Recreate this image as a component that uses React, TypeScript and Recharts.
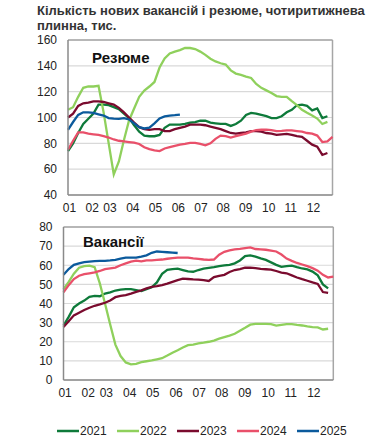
import { CartesianGrid, Line, LineChart, ReferenceLine, XAxis, YAxis } from 'recharts';

const years = ['2021', '2022', '2023', '2024', '2025'];
const colors = ['#0e7a3a', '#8fd05c', '#7a0b2e', '#e9506a', '#0b5a9c'];

const monthLabels = ['01', '02', '03', '04', '05', '06', '07', '08', '09', '10', '11', '12'];
// week positions where Excel puts the month labels
const monthTicks = [1.3, 5.75, 9.25, 13.75, 18.2, 22.7, 27.15, 31.5, 35.95, 40.45, 44.8, 49.25];

const resume2021 = [74, 80, 88, 95, 99, 103, 110, 110, 109.5, 108, 106.5, 103, 99.5, 94, 89, 86, 85.5, 85.5, 86.5, 92, 94.5, 94.5, 94.5, 95, 96, 96.5, 97.5, 97.5, 96, 95.5, 95, 95, 93.5, 95, 97.5, 102, 103.5, 103, 102, 101, 99.5, 99.5, 101, 104, 106, 109.5, 110, 109, 105.5, 107, 99.5, 101];
const resume2022 = [106, 108, 116, 123, 124, 124, 124.5, 104, 80, 56, 66, 82.6, 97.7, 107, 116, 120.8, 124, 127.5, 138.7, 145.7, 149.6, 151, 152.2, 153.8, 153.8, 153, 151, 148.5, 145.5, 143.4, 142, 141, 136.5, 134, 133, 131.7, 130.6, 126, 123, 121, 119, 116.6, 116, 116, 112.7, 109.6, 106, 103.6, 101.6, 99.2, 95, 96.6];
const resume2023 = [100, 103, 109, 111, 111.5, 112.5, 112.5, 112, 111, 110, 107.5, 104, 100, 96, 92.5, 91, 90.5, 91, 91, 89.5, 89.5, 91, 92, 93, 94.5, 94.5, 94.5, 94, 93, 92, 91, 89.5, 88, 87.5, 88, 88.5, 89.5, 89.5, 89, 88, 87.5, 86.5, 87, 87.3, 86.5, 85.5, 85, 82, 79, 77.5, 71, 72.5];
const resume2024 = [75, 82, 88.5, 88.5, 87.5, 87, 86.5, 85.5, 84.5, 83, 82, 81.5, 81, 80.5, 79.5, 77, 75.5, 74.5, 74, 76, 77, 78, 79, 79.5, 80.3, 80.3, 79.5, 78.5, 80, 83.5, 86, 85.5, 84.5, 85.5, 86.5, 87.5, 89, 90.3, 90.5, 90.6, 90.2, 89.5, 89.7, 90, 90, 89.5, 89, 88, 87.5, 86, 81, 81.5, 85];
const resume2025 = [90.5, 96.5, 102, 104, 104, 103.5, 102.5, 101.5, 99.5, 99.2, 99, 99.5, 98.5, 95.5, 92.5, 91.5, 92.2, 95.5, 99.3, 100.8, 101.5, 101.8, 102.3];

const vac2021 = [28.5, 33, 38, 40, 41.5, 43.5, 44, 43.8, 45.2, 45.8, 46.8, 47.3, 47.5, 47.5, 47, 46.5, 47.5, 48.5, 51, 55.5, 57.6, 58, 58.2, 57.5, 56.8, 56.6, 57.5, 58.2, 58.6, 59, 59.5, 59.9, 60.2, 61, 62.5, 64.8, 65.2, 64.5, 63.6, 62.8, 61.5, 60.2, 59.2, 59.5, 59.8, 59, 58.3, 57.8, 56.7, 54.7, 50, 47.9];
const vac2022 = [47.5, 51.3, 55.6, 58.7, 59.5, 59.8, 59, 50.5, 40, 29, 18.5, 12.5, 9.2, 8.2, 8.4, 9.3, 9.8, 10.2, 10.8, 11.4, 12.8, 14.3, 15.6, 17, 18.2, 18.5, 19.1, 19.5, 20, 20.6, 21.6, 22.4, 23.2, 24.2, 25.8, 27.3, 28.9, 29.3, 29.3, 29.3, 29.2, 28.4, 28.8, 29.2, 29.2, 28.8, 28.5, 28, 27.7, 27.5, 26.4, 26.8];
const vac2023 = [27.7, 30.7, 33.8, 35.2, 36.6, 37.8, 38.8, 39.5, 40.4, 41.6, 43.3, 44, 44.4, 45.2, 46.1, 46.9, 47.9, 48.7, 49.1, 49.6, 50.4, 51.3, 52.2, 53, 52.8, 52.6, 52.5, 52.2, 51.8, 53.8, 54.5, 55, 56.5, 57.5, 58, 58.7, 58.8, 58.5, 58.1, 57.9, 57.7, 57, 56.2, 55.8, 54.7, 53.6, 52.7, 51.9, 51, 50.2, 46, 45.6];
const vac2024 = [45.8, 49.6, 52.8, 54.5, 55.3, 55.8, 56.3, 57, 58, 58.4, 58.8, 60, 61, 61.9, 62.4, 62, 62.6, 62.6, 62.8, 63, 63.4, 63.7, 64, 64, 64, 63.6, 63.3, 63, 62.8, 63, 65.5, 67, 67.8, 68.3, 68.6, 69, 69.3, 68.5, 68.3, 68.1, 67.7, 67.2, 65.6, 63.5, 62.3, 61.2, 60.4, 59.5, 58.5, 57.2, 55, 53.6, 54];
const vac2025 = [55, 58, 60.2, 61, 61.6, 61.9, 62.2, 62.3, 62.3, 62.5, 62.8, 63.5, 64, 64, 64, 64.5, 65.2, 66.5, 67.2, 67, 66.8, 66.6, 66.4];

const resumeTicks = [40, 60, 80, 100, 120, 140, 160];
const vacTicks = [0, 10, 20, 30, 40, 50, 60, 70, 80];

function buildRows(series: number[][]) {
  const n = Math.max(...series.map((s) => s.length));
  const rows: any[] = [];
  for (let i = 0; i < n; i++) {
    const row: any = { week: i + 1 };
    series.forEach((s, k) => {
      row['y' + years[k]] = s[i];
    });
    rows.push(row);
  }
  return rows;
}

const resumeData = buildRows([resume2021, resume2022, resume2023, resume2024, resume2025]);
const vacData = buildRows([vac2021, vac2022, vac2023, vac2024, vac2025]);

const FONT = '"Liberation Sans", Arial, sans-serif';

function Panel({ data, ticks, label, yWidth, rightMargin, topMargin, labelX, labelY }: any) {
  const top = ticks[ticks.length - 1];
  return (
    <LineChart
      width={340}
      height={190}
      data={data}
      margin={{ top: topMargin, right: rightMargin, left: 0, bottom: 0 }}
    >
      <CartesianGrid vertical={false} stroke="#d9d9d9" strokeWidth={1.2} />
      <XAxis
        dataKey="week"
        type="number"
        domain={[1, 53]}
        ticks={monthTicks}
        interval={0}
        tickFormatter={(v: number, i: number) => monthLabels[i]}
        tickLine={false}
        axisLine={{ stroke: '#8a8a8a', strokeWidth: 1.5 }}
        tick={{ fill: '#222', fontSize: 12 }}
        height={25}
      />
      <YAxis
        type="number"
        domain={[ticks[0], top]}
        ticks={ticks}
        interval={0}
        width={yWidth}
        tickLine={false}
        tickMargin={5}
        axisLine={{ stroke: '#8a8a8a', strokeWidth: 1.5 }}
        tick={{ fill: '#222', fontSize: 12 }}
      />
      <ReferenceLine y={top} stroke="#a6a6a6" strokeWidth={1.5} />
      <ReferenceLine x={53} stroke="#a6a6a6" strokeWidth={1.5} />
      {years.map((y, i) => (
        <Line
          key={y}
          dataKey={'y' + y}
          stroke={colors[i]}
          strokeWidth={2.3}
          dot={false}
          type="linear"
          isAnimationActive={false}
        />
      ))}
      <text x={labelX} y={labelY} fontSize={15} fontWeight="bold" fill="#111">
        {label}
      </text>
    </LineChart>
  );
}

export default function App() {
  return (
    <div
      style={{
        position: 'absolute',
        left: 0,
        top: 0,
        width: 382,
        height: 445,
        background: '#fff',
        fontFamily: FONT,
        color: '#222',
      }}
    >
      <div
        style={{
          position: 'absolute',
          left: 37,
          top: 3,
          fontSize: 13,
          fontWeight: 'bold',
          lineHeight: '15px',
          color: '#333',
          whiteSpace: 'nowrap',
        }}
      >
        Кількість нових вакансій і резюме, чотиритижнева
        <br />
        плинна, тис.
      </div>
      <div style={{ position: 'absolute', left: 0, top: 30 }}>
        <Panel
          data={resumeData}
          ticks={resumeTicks}
          label="Резюме"
          yWidth={68}
          rightMargin={7.5}
          topMargin={10}
          labelX={92}
          labelY={33}
        />
      </div>
      <div style={{ position: 'absolute', left: 0, top: 215 }}>
        <Panel
          data={vacData}
          ticks={vacTicks}
          label="Вакансії"
          yWidth={63.5}
          rightMargin={6.7}
          topMargin={12}
          labelX={83}
          labelY={32}
        />
      </div>
      <div
        style={{
          position: 'absolute',
          left: 57,
          top: 423,
          display: 'flex',
          fontSize: 12,
          color: '#222',
        }}
      >
        {years.map((y, i) => (
          <div key={y} style={{ display: 'flex', alignItems: 'center', width: 60 }}>
            <svg width={22} height={16}>
              <line x1={0} x2={22} y1={8} y2={8} stroke={colors[i]} strokeWidth={2.5} />
            </svg>
            <span style={{ marginLeft: 1 }}>{y}</span>
          </div>
        ))}
      </div>
    </div>
  );
}
